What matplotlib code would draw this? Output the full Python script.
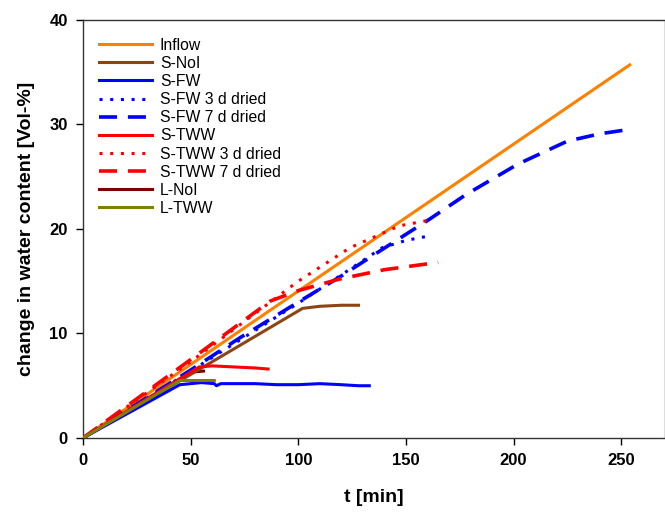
import matplotlib
matplotlib.use("Agg")
import matplotlib.pyplot as plt

# ---- data ----
inflow_t = [0, 254]
inflow_v = [0, 35.7]

s_noi_t = [0, 102, 110, 120, 128]
s_noi_v = [0, 12.4, 12.6, 12.7, 12.7]

s_fw_t = [0, 45, 55, 61, 62, 64, 70, 80, 90, 100, 110, 120, 128, 133]
s_fw_v = [0, 5.1, 5.3, 5.2, 5.0, 5.2, 5.2, 5.2, 5.1, 5.1, 5.2, 5.1, 5.0, 5.0]

s_fw3_t = [0, 50, 100, 120, 139, 150, 160]
s_fw3_v = [0, 6.4, 12.9, 15.6, 18.2, 18.9, 19.3]

s_fw7_t = [0, 50, 73, 100, 120, 138, 160, 178, 202, 225, 240, 253]
s_fw7_v = [0, 6.5, 9.6, 13.0, 15.5, 17.9, 20.8, 23.3, 26.2, 28.4, 29.1, 29.5]

s_tww_t = [0, 54, 60, 70, 80, 86]
s_tww_v = [0, 6.8, 6.9, 6.8, 6.7, 6.6]

s_tww3_t = [0, 50, 100, 124, 147, 160]
s_tww3_v = [0, 7.3, 15.0, 18.2, 20.3, 20.8]

s_tww7_t = [0, 50, 87, 100, 119, 140, 165]
s_tww7_v = [0, 7.5, 13.1, 14.1, 15.2, 16.1, 16.8]

l_noi_t = [0, 50, 56]
l_noi_v = [0, 6.3, 6.4]

l_tww_t = [0, 45, 61]
l_tww_v = [0, 5.5, 5.5]

xticks = [0, 50, 100, 150, 200, 250]
yticks = [0, 10, 20, 30, 40]

plt.rcParams['font.family'] = ['Liberation Sans', 'DejaVu Sans']

fig = plt.figure(figsize=(6.65, 5.13), dpi=100)
ax = fig.add_axes([0.1248, 0.1462, 0.874, 0.815])

orange = '#FF8000'
brown = '#8B4513'
blue = '#0000FF'
red = '#FF0000'
darkred = '#800000'
olive = '#808000'
lw = 2.2

h_lnoi, = ax.plot(l_noi_t, l_noi_v, color=darkred, lw=lw, label='L-NoI', zorder=1)
h_inflow, = ax.plot(inflow_t, inflow_v, color=orange, lw=lw, label='Inflow', zorder=3)
h_snoi, = ax.plot(s_noi_t, s_noi_v, color=brown, lw=lw, label='S-NoI', zorder=3)
h_sfw, = ax.plot(s_fw_t, s_fw_v, color=blue, lw=lw, label='S-FW', zorder=3)
h_sfw3, = ax.plot(s_fw3_t, s_fw3_v, color=blue, lw=lw, ls=(0, (1, 2.5)), label='S-FW 3 d dried', zorder=3)
h_sfw7, = ax.plot(s_fw7_t, s_fw7_v, color=blue, lw=lw + 0.4, ls=(0, (5, 3)), label='S-FW 7 d dried', zorder=3)
h_stww, = ax.plot(s_tww_t, s_tww_v, color=red, lw=lw, label='S-TWW', zorder=3)
h_stww3, = ax.plot(s_tww3_t, s_tww3_v, color=red, lw=lw, ls=(0, (1, 2.5)), label='S-TWW 3 d dried', zorder=3)
h_stww7, = ax.plot(s_tww7_t, s_tww7_v, color=red, lw=lw + 0.4, ls=(0, (5, 3)), label='S-TWW 7 d dried', zorder=3)
h_ltww, = ax.plot(l_tww_t, l_tww_v, color=olive, lw=lw, label='L-TWW', zorder=3)

handles = [h_inflow, h_snoi, h_sfw, h_sfw3, h_sfw7, h_stww, h_stww3, h_stww7, h_lnoi, h_ltww]
leg = ax.legend(handles=handles, loc='upper left', bbox_to_anchor=(0.0, 0.995),
                frameon=False, fontsize=11.3, handlelength=3.4, handletextpad=0.5,
                labelspacing=0.2, borderaxespad=0.6)

ax.set_xlim(0, 270)
ax.set_ylim(0, 40)
ax.set_xticks(xticks)
ax.set_yticks(yticks)
ax.tick_params(axis='both', direction='out', length=5, width=1, labelsize=12,
               top=False, right=False, pad=6)
for lab in ax.get_xticklabels() + ax.get_yticklabels():
    lab.set_fontweight('bold')
for s in ['left', 'bottom', 'top']:
    ax.spines[s].set_color('#333333')
    ax.spines[s].set_linewidth(1)
ax.spines['right'].set_color('#dddddd')

ax.set_xlabel('t [min]', fontsize=14, fontweight='bold', labelpad=15)
ax.set_ylabel('change in water content [Vol-%]', fontsize=14, fontweight='bold', labelpad=10)

fig.savefig('out.png', dpi=100)
